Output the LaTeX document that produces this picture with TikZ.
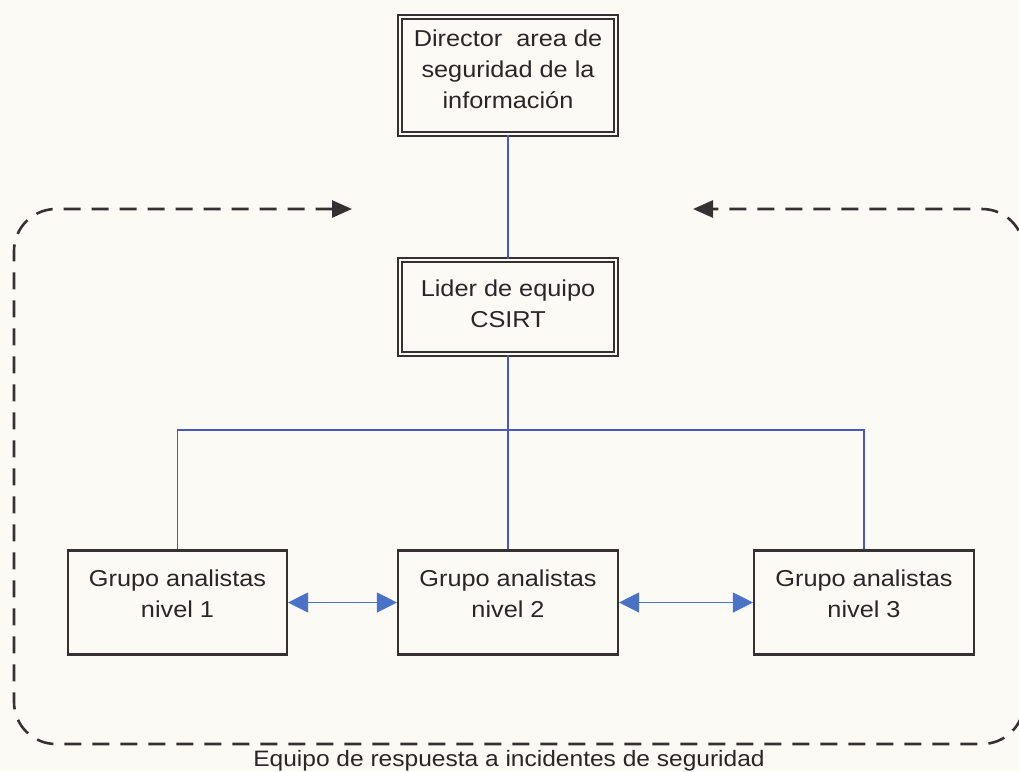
\documentclass[tikz,border=0pt]{standalone}
\usepackage{fontspec}
\setmainfont{Liberation Sans}[FakeStretch=1.1]
\usetikzlibrary{arrows.meta}

\definecolor{paper}{HTML}{FBFAF4}
\definecolor{ink}{HTML}{2A2626}
\definecolor{edge}{HTML}{363131}
\definecolor{wire}{HTML}{4858BC}
\definecolor{duo}{HTML}{4A72C6}

\begin{document}
\begin{tikzpicture}[x=1pt,y=-1pt,
  doublebox/.style={draw=edge, line width=1.9pt, double=paper,
    double distance=2.4pt, inner sep=0pt, rectangle},
  singlebox/.style={draw=edge, line width=2.1pt, inner sep=0pt, rectangle,
    minimum width=219pt, minimum height=104pt},
  txt/.style={text=ink, align=center, inner sep=0pt,
    font=\fontsize{23}{31}\selectfont},
  conn/.style={draw=wire, line width=1.1pt},
  peer/.style={draw=duo, line width=1.1pt,
    {Triangle[length=20pt,width=20pt,fill=duo]}-{Triangle[length=20pt,width=20pt,fill=duo]}},
  frame/.style={draw=edge, line width=2.6pt, dash pattern=on 17pt off 11pt,
    rounded corners=42pt,
    {Triangle[length=20pt,width=17pt,fill=edge]}-{Triangle[length=20pt,width=17pt,fill=edge]}}
]
\fill[paper] (0,0) rectangle (1019,771);
\useasboundingbox (0,0) rectangle (1019,771);

% boxes
\node[doublebox, minimum width=216pt, minimum height=117pt] (dir) at (508,75.5) {};
\node[doublebox, minimum width=216pt, minimum height=94pt] (lid) at (508,307) {};
\node[singlebox] (g1) at (177.5,602.5) {};
\node[singlebox, minimum width=220pt] (g2) at (508,602.5) {};
\node[singlebox, minimum width=220pt] (g3) at (864,602.5) {};

% box texts
\node[txt] (dirT) at (508,69) {Director\ \ area de\\seguridad de la\\información};
\node[txt] (lidT) at (508,304) {Lider de equipo\\CSIRT};
\node[txt] (g1T) at (177.5,594) {Grupo analistas\\nivel 1};
\node[txt] (g2T) at (508,594) {Grupo analistas\\nivel 2};
\node[txt] (g3T) at (864,594) {Grupo analistas\\nivel 3};

% hierarchy
\coordinate (bus) at (508,430);
\draw[conn] (dir.south) -- (lid.north);
\draw[conn] (lid.south) -- (g2.north);
\draw[conn] (g1.north) |- (bus) -| (g3.north);

% peer links
\draw[peer] (g1.east) -- (g2.west);
\draw[peer] (g2.east) -- (g3.west);

% team boundary
\coordinate (inL) at (352,209);
\coordinate (inR) at (693,209);
\path[frame] (inL) -- (14,209) -- (14,744) -- (1024,744) -- (1024,209) -- (inR);
\node[txt, anchor=base, font=\fontsize{22.3}{28}\selectfont] (team) at (509,766)
  {Equipo de respuesta a incidentes de seguridad};
\end{tikzpicture}
\end{document}
